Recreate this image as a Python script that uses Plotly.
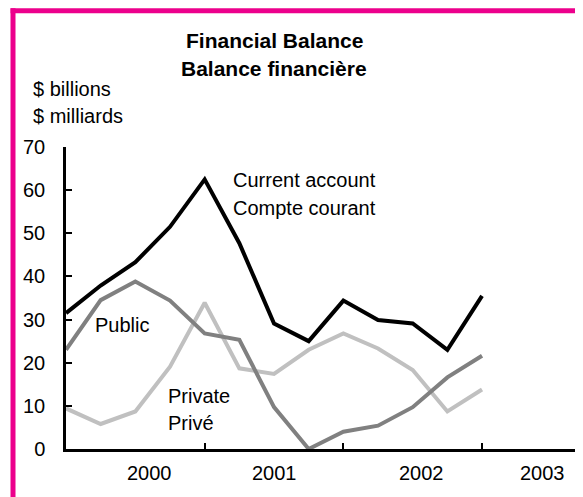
import plotly.graph_objects as go

# ---- data (quarterly, $ billions) ----
quarter_index = list(range(13))
current_account = [31.5, 37.9, 43.3, 51.5, 62.5, 47.7, 29.1, 25.0, 34.4, 29.9, 29.1, 23.0, 35.5]
public = [23.0, 34.5, 38.8, 34.4, 26.8, 25.3, 9.7, 0.0, 4.0, 5.4, 9.7, 16.6, 21.6]
private = [9.4, 5.8, 8.7, 19.1, 33.9, 18.7, 17.4, 23.0, 26.8, 23.3, 18.3, 8.7, 13.8]
year_labels = ["2000", "2001", "2002", "2003"]
year_label_pos = [2.42, 6.0, 10.24, 13.73]
year_tick_pos = [4, 8, 12]
y_ticks = [0, 10, 20, 30, 40, 50, 60, 70]

OFF = 8  # page body margin
W, H = 583 - OFF, 497 - OFF
L, T = 66 - OFF, 147 - OFF
R = 0
B = H - (449 - OFF)
PW, PH = W - L - R, H - T - B
FONT = "Liberation Sans, Arial, sans-serif"


def px(x):  # window pixel -> paper
    return (x - OFF - L) / PW


def py(y):
    return (H - B - (y - OFF)) / PH


fig = go.Figure()
fig.add_trace(go.Scatter(x=quarter_index, y=private, mode="lines",
                         line=dict(color="#c0c0c0", width=4), name="Private"))
fig.add_trace(go.Scatter(x=quarter_index, y=public, mode="lines",
                         line=dict(color="#808080", width=4), name="Public"))
fig.add_trace(go.Scatter(x=quarter_index, y=current_account, mode="lines",
                         line=dict(color="#000000", width=4), name="Current account"))

ann = []


def text(x, y, s, size=20, bold=False, xanchor="left"):
    ann.append(dict(x=px(x), y=py(y), xref="paper", yref="paper", text=(f"<b>{s}</b>" if bold else s),
                    showarrow=False, xanchor=xanchor, yanchor="middle",
                    font=dict(family=FONT, size=size, color="#000000")))


text(274, 40, "Financial Balance", size=21, bold=True, xanchor="center")
text(274, 68, "Balance financière", size=21, bold=True, xanchor="center")
text(31, 89, "$ billions")
text(31, 116, "$ milliards")
text(231, 180, "Current account")
text(231, 208, "Compte courant")
text(93, 325, "Public")
text(166, 396, "Private")
text(166, 423, "Privé")

for lab, pos in zip(year_labels, year_label_pos):
    ann.append(dict(x=pos, y=py(473), xref="x", yref="paper", text=lab, showarrow=False,
                    xanchor="center", yanchor="middle",
                    font=dict(family=FONT, size=20, color="#000000")))

PINK = "#EC008C"
border = [
    dict(type="line", xref="paper", yref="paper", x0=px(10.6), x1=px(583), y0=py(10.8), y1=py(10.8),
         line=dict(color=PINK, width=5), layer="above"),
    dict(type="line", xref="paper", yref="paper", x0=px(13), x1=px(13), y0=py(8.3), y1=py(497),
         line=dict(color=PINK, width=5), layer="above"),
]

fig.update_layout(
    width=W, height=H,
    margin=dict(l=L, r=R, t=T, b=B),
    paper_bgcolor="white", plot_bgcolor="white",
    showlegend=False,
    annotations=ann,
    shapes=border,
    xaxis=dict(range=[0, PW / 34.67], showgrid=False, zeroline=False,
               showline=True, linecolor="black", linewidth=2.5,
               tickmode="array", tickvals=year_tick_pos, ticks="inside", ticklen=6,
               tickwidth=2, tickcolor="black", showticklabels=False, fixedrange=True),
    yaxis=dict(range=[0, 70], showgrid=False, zeroline=False,
               showline=True, linecolor="black", linewidth=2.5,
               tickmode="array", tickvals=y_ticks, ticks="inside", ticklen=6,
               tickwidth=2, tickcolor="black", ticklabelstandoff=14,
               tickfont=dict(family=FONT, size=20, color="black"), fixedrange=True),
)

fig.write_html("out.html")
